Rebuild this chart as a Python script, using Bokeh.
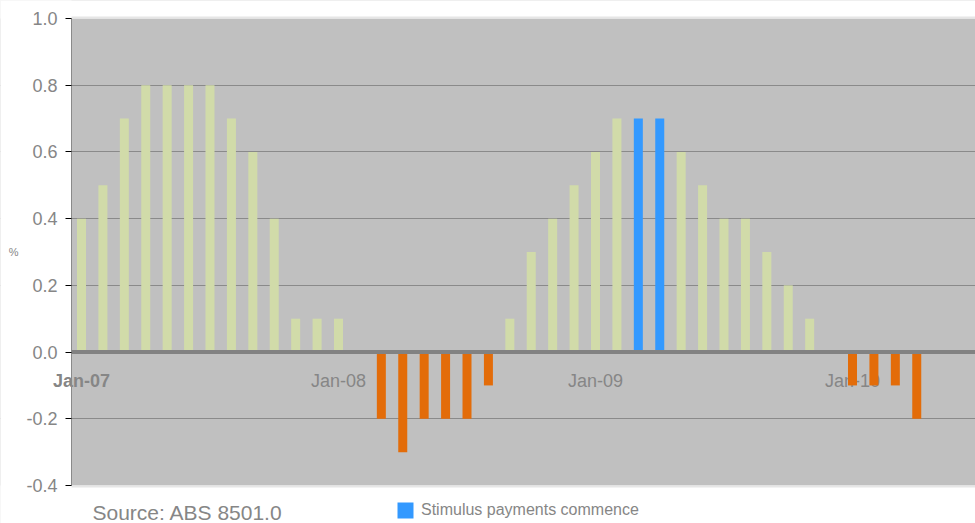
from bokeh.plotting import figure
from bokeh.models import (Range1d, FixedTicker, NumeralTickFormatter, Label, BoxAnnotation,
                          Legend, LegendItem)
from bokeh.core.properties import value
from bokeh.embed import file_html
from bokeh.resources import INLINE

# ---- data ----
months = ["Jan-07", "Feb-07", "Mar-07", "Apr-07", "May-07", "Jun-07", "Jul-07", "Aug-07",
          "Sep-07", "Oct-07", "Nov-07", "Dec-07", "Jan-08", "Feb-08", "Mar-08", "Apr-08",
          "May-08", "Jun-08", "Jul-08", "Aug-08", "Sep-08", "Oct-08", "Nov-08", "Dec-08",
          "Jan-09", "Feb-09", "Mar-09", "Apr-09", "May-09", "Jun-09", "Jul-09", "Aug-09",
          "Sep-09", "Oct-09", "Nov-09", "Dec-09", "Jan-10", "Feb-10", "Mar-10", "Apr-10"]
values = [0.4, 0.5, 0.7, 0.8, 0.8, 0.8, 0.8, 0.7, 0.6, 0.4, 0.1, 0.1, 0.1, 0.0,
          -0.2, -0.3, -0.2, -0.2, -0.2, -0.1, 0.1, 0.3, 0.4, 0.5, 0.6, 0.7, 0.7, 0.7,
          0.6, 0.5, 0.4, 0.4, 0.3, 0.2, 0.1, 0.0, -0.1, -0.1, -0.1, -0.2]
stimulus_months = ["Mar-09", "Apr-09"]
tick_labels = ["Jan-07", "Jan-08", "Jan-09", "Jan-10"]
y_ticks = [-0.4, -0.2, 0.0, 0.2, 0.4, 0.6, 0.8, 1.0]
source_text = "Source: ABS 8501.0"
legend_text = "Stimulus payments commence"

# ---- layout / style constants ----
Y_MIN, Y_MAX = -0.4, 1.0
PX_Y = 467 / (Y_MAX - Y_MIN)          # pixels per y unit in plot area
PX_X = 771 / 36                       # pixels per month
X_LEFT = -10 / PX_X                   # plot area left edge (data units)
CANVAS_W, CANVAS_H = 975, 523
GREEN = "#d1dba9"
ORANGE = "#e36c09"
BLUE = "#3399ff"
GRAY = "#868686"
FONT = "Liberation Sans"

idx = list(range(len(months)))
pos_x = [i for i, m, v in zip(idx, months, values) if v >= 0 and m not in stimulus_months]
pos_y = [v for m, v in zip(months, values) if v >= 0 and m not in stimulus_months]
neg_x = [i for i, v in zip(idx, values) if v < 0]
neg_y = [v for v in values if v < 0]
stim_x = [months.index(m) for m in stimulus_months]
stim_y = [values[months.index(m)] for m in stimulus_months]

x0 = -81 / PX_X
x1 = (CANVAS_W - 81) / PX_X
y1 = Y_MAX + 18 / PX_Y
y0 = Y_MIN - 38 / PX_Y

p = figure(width=CANVAS_W, height=CANVAS_H, output_backend="svg", toolbar_location=None,
           x_range=Range1d(x0, x1), y_range=Range1d(y0, y1),
           x_axis_location=None, min_border_left=0, min_border_right=0,
           min_border_top=0, min_border_bottom=0)
p.background_fill_color = "#c0c0c0"
p.border_fill_color = "white"
p.outline_line_color = None
p.xgrid.visible = False
p.ygrid.ticker = FixedTicker(ticks=[t for t in y_ticks if t not in (Y_MIN, 0.0, Y_MAX)])
p.ygrid.grid_line_color = "#8a8a8a"
p.ygrid.grid_line_width = 1

# white margins around the grey plot area (extending past the canvas edges)
ex0, ex1, ey0, ey1 = x0 - 2, x1 + 2, y0 - 0.1, y1 + 0.1
for kw in (dict(left=ex0, right=X_LEFT, bottom=ey0, top=ey1),
           dict(left=ex0, right=ex1, bottom=Y_MAX, top=ey1),
           dict(left=ex0, right=ex1, bottom=ey0, top=Y_MIN)):
    p.add_layout(BoxAnnotation(fill_color="white", fill_alpha=1, line_color=None,
                               level="underlay", **kw))
# faint light edge above and below the plot area
p.segment(x0=[X_LEFT, X_LEFT], y0=[Y_MAX + 1 / PX_Y, Y_MIN - 1 / PX_Y],
          x1=[x1, x1], y1=[Y_MAX + 1 / PX_Y, Y_MIN - 1 / PX_Y],
          line_color="#e6e6e6", line_width=2)

ax = p.yaxis[0]
ax.fixed_location = X_LEFT
ax.bounds = (Y_MIN, Y_MAX)
ax.ticker = FixedTicker(ticks=y_ticks)
ax.formatter = NumeralTickFormatter(format="0.0")
ax.axis_line_color = "#8a8a8a"
ax.major_tick_line_color = "black"
ax.major_tick_out = 6
ax.major_tick_in = 0
ax.minor_tick_line_color = None
ax.major_label_text_font = FONT
ax.major_label_text_font_size = "18px"
ax.major_label_text_color = GRAY
ax.major_label_standoff = 8
ax.axis_label = "%"
ax.axis_label_orientation = "horizontal"
ax.axis_label_text_font = FONT
ax.axis_label_text_font_size = "11px"
ax.axis_label_text_font_style = "normal"
ax.axis_label_text_color = GRAY
ax.axis_label_standoff = 5

# month labels inside the plot (under the bars)
tick_idx = [months.index(t) for t in tick_labels]
p.text(x=tick_idx[:1], y=[-0.087], text=tick_labels[:1], text_align="center",
       text_baseline="middle", text_font=value(FONT), text_font_size="18px",
       text_font_style="bold", text_color=GRAY)
p.text(x=tick_idx[1:], y=[-0.087] * 3, text=tick_labels[1:], text_align="center",
       text_baseline="middle", text_font=value(FONT), text_font_size="18px",
       text_color=GRAY)

W = 0.42
p.vbar(x=pos_x, top=pos_y, bottom=0, width=W, fill_color=GREEN, line_color=None)
p.vbar(x=neg_x, top=neg_y, bottom=0, width=W, fill_color=ORANGE, line_color=None)
stim = p.vbar(x=stim_x, top=stim_y, bottom=0, width=W, fill_color=BLUE, line_color=None)

# thick zero line over the bars
p.segment(x0=[X_LEFT], y0=[0.0], x1=[x1], y1=[0.0], line_color="#828282", line_width=4)

p.add_layout(Label(x=92, y=CANVAS_H - 512, x_units="screen", y_units="screen",
                   text=source_text, text_font=FONT, text_font_size="21px",
                   text_color=GRAY, text_align="left", text_baseline="middle"))

legend = Legend(items=[LegendItem(label=legend_text, renderers=[stim])],
                location=(395, CANVAS_H - 520), glyph_width=20, glyph_height=20,
                label_height=20, padding=0, margin=0, spacing=0, label_standoff=6,
                border_line_color=None, background_fill_alpha=0,
                label_text_font=FONT, label_text_font_size="16px",
                label_text_color=GRAY)
p.add_layout(legend, "center")

open("out.html", "w").write(file_html(p, INLINE))
